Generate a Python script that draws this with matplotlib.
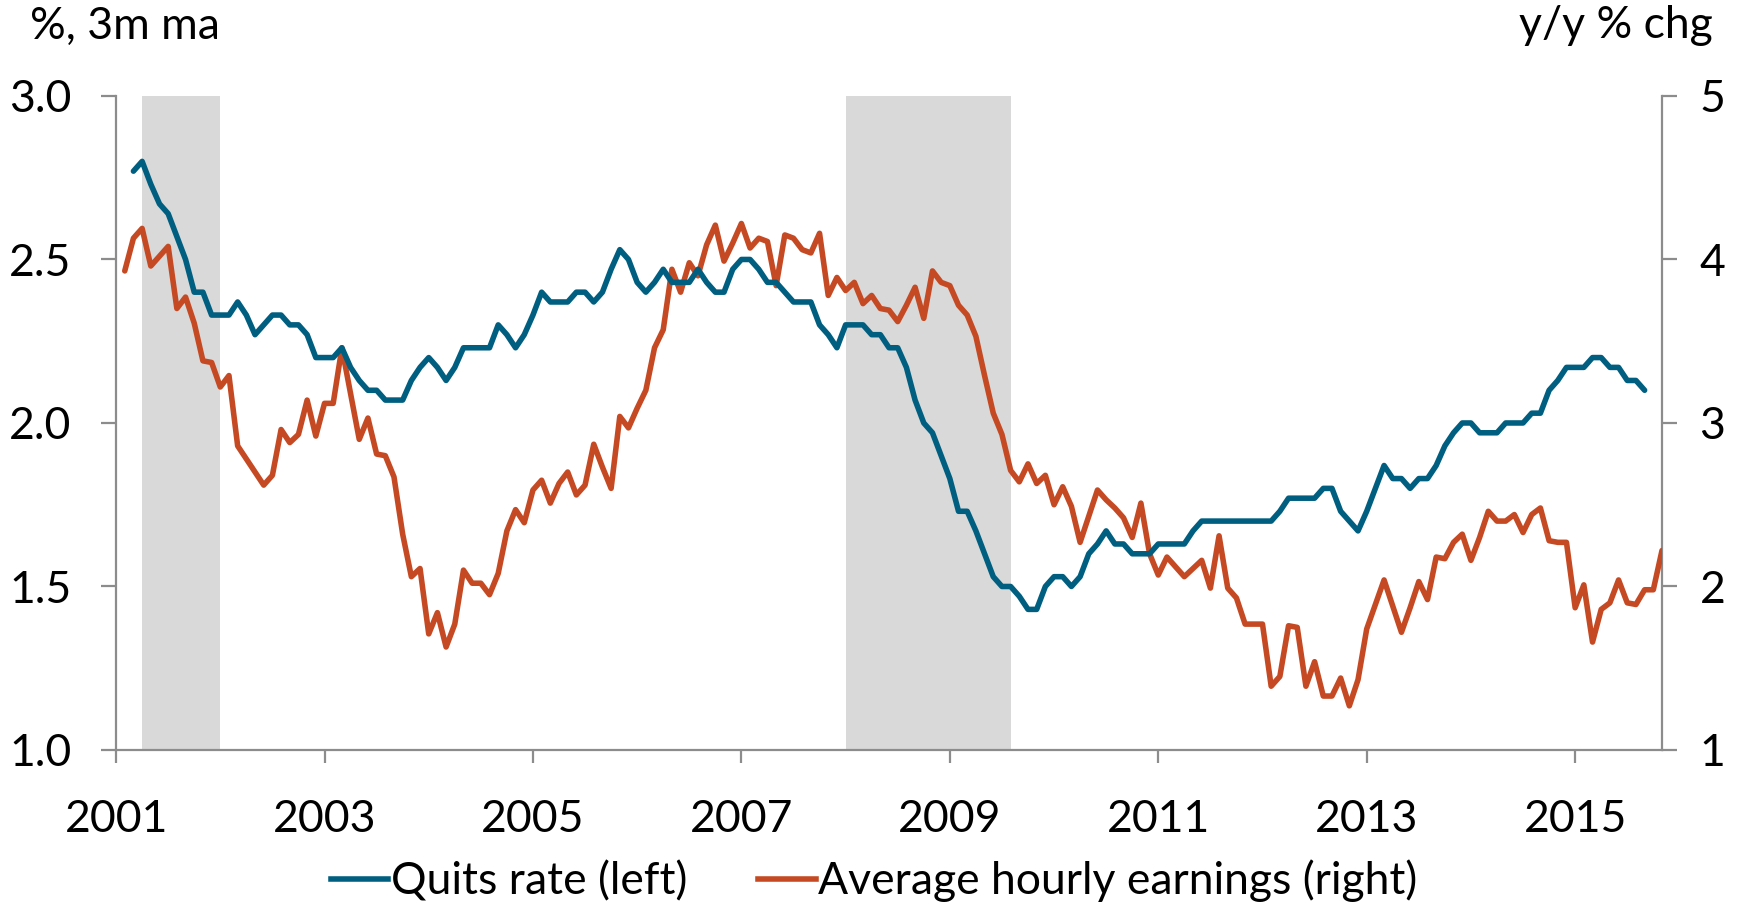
import matplotlib
matplotlib.use("Agg")
import matplotlib.pyplot as plt
import pandas as pd
from matplotlib.lines import Line2D

# ---------------- data ----------------
quits_start = "2001-03"
quits_rate = [
    2.77, 2.80, 2.73, 2.67, 2.64, 2.57, 2.50, 2.40, 2.40, 2.33,
    2.33, 2.33, 2.37, 2.33, 2.27, 2.30, 2.33, 2.33, 2.30, 2.30,
    2.27, 2.20, 2.20, 2.20, 2.23, 2.17, 2.13, 2.10, 2.10, 2.07,
    2.07, 2.07, 2.13, 2.17, 2.20, 2.17, 2.13, 2.17, 2.23, 2.23,
    2.23, 2.23, 2.30, 2.27, 2.23, 2.27, 2.33, 2.40, 2.37, 2.37,
    2.37, 2.40, 2.40, 2.37, 2.40, 2.47, 2.53, 2.50, 2.43, 2.40,
    2.43, 2.47, 2.43, 2.43, 2.43, 2.47, 2.43, 2.40, 2.40, 2.47,
    2.50, 2.50, 2.47, 2.43, 2.43, 2.40, 2.37, 2.37, 2.37, 2.30,
    2.27, 2.23, 2.30, 2.30, 2.30, 2.27, 2.27, 2.23, 2.23, 2.17,
    2.07, 2.00, 1.97, 1.90, 1.83, 1.73, 1.73, 1.67, 1.60, 1.53,
    1.50, 1.50, 1.47, 1.43, 1.43, 1.50, 1.53, 1.53, 1.50, 1.53,
    1.60, 1.63, 1.67, 1.63, 1.63, 1.60, 1.60, 1.60, 1.63, 1.63,
    1.63, 1.63, 1.67, 1.70, 1.70, 1.70, 1.70, 1.70, 1.70, 1.70,
    1.70, 1.70, 1.73, 1.77, 1.77, 1.77, 1.77, 1.80, 1.80, 1.73,
    1.70, 1.67, 1.73, 1.80, 1.87, 1.83, 1.83, 1.80, 1.83, 1.83,
    1.87, 1.93, 1.97, 2.00, 2.00, 1.97, 1.97, 1.97, 2.00, 2.00,
    2.00, 2.03, 2.03, 2.10, 2.13, 2.17, 2.17, 2.17, 2.20, 2.20,
    2.17, 2.17, 2.13, 2.13, 2.10,
]

ahe_start = "2001-02"
ahe_growth = [
    3.93, 4.13, 4.19, 3.96, 4.02, 4.08, 3.70, 3.77, 3.61, 3.38,
    3.37, 3.22, 3.29, 2.86, 2.78, 2.70, 2.62, 2.68, 2.96, 2.88,
    2.93, 3.14, 2.92, 3.12, 3.12, 3.46, 3.18, 2.90, 3.03, 2.81,
    2.80, 2.67, 2.32, 2.06, 2.11, 1.71, 1.84, 1.63, 1.77, 2.10,
    2.02, 2.02, 1.95, 2.08, 2.34, 2.47, 2.39, 2.59, 2.65, 2.51,
    2.63, 2.70, 2.56, 2.62, 2.87, 2.73, 2.60, 3.04, 2.97, 3.09,
    3.20, 3.46, 3.57, 3.94, 3.80, 3.98, 3.90, 4.09, 4.21, 3.99,
    4.10, 4.22, 4.07, 4.13, 4.11, 3.84, 4.15, 4.13, 4.06, 4.04,
    4.16, 3.78, 3.89, 3.81, 3.86, 3.73, 3.78, 3.70, 3.69, 3.62,
    3.72, 3.83, 3.64, 3.93, 3.86, 3.84, 3.72, 3.66, 3.53, 3.29,
    3.06, 2.93, 2.71, 2.64, 2.75, 2.63, 2.68, 2.50, 2.61, 2.49,
    2.27, 2.43, 2.59, 2.53, 2.48, 2.42, 2.30, 2.51, 2.20, 2.07,
    2.18, 2.12, 2.06, 2.11, 2.16, 1.99, 2.31, 1.99, 1.93, 1.77,
    1.77, 1.77, 1.39, 1.45, 1.76, 1.75, 1.39, 1.54, 1.33, 1.33,
    1.44, 1.27, 1.43, 1.74, 1.89, 2.04, 1.88, 1.72, 1.87, 2.03,
    1.92, 2.18, 2.17, 2.27, 2.32, 2.16, 2.30, 2.46, 2.40, 2.40,
    2.44, 2.33, 2.44, 2.48, 2.28, 2.27, 2.27, 1.87, 2.01, 1.66,
    1.86, 1.90, 2.04, 1.90, 1.89, 1.98, 1.98, 2.22,
]

recessions = [("2001-04", "2002-01"), ("2008-01", "2009-08")]
axis_start, axis_end = "2001-01", "2015-11"
year_ticks = [2001, 2003, 2005, 2007, 2009, 2011, 2013, 2015]
left_ticks = [1.0, 1.5, 2.0, 2.5, 3.0]
right_ticks = [1, 2, 3, 4, 5]

series_labels = ["Quits rate (left)", "Average hourly earnings (right)"]
left_unit = "%, 3m ma"
right_unit = "y/y % chg"


def frac_year(p):
    p = pd.Period(p, freq="M")
    return p.year + (p.month - 1) / 12.0


def month_axis(start, n):
    idx = pd.period_range(start=start, periods=n, freq="M")
    return [p.year + (p.month - 1) / 12.0 for p in idx]


# ---------------- style ----------------
BLUE = "#005F80"
ORANGE = "#C54A23"
SHADE = "#D9D9D9"
AXC = "#8C8C8C"
FONT = ["Lato", "DejaVu Sans"]
plt.rcParams["font.family"] = FONT
FS = 32
LW = 4.0

fig = plt.figure(figsize=(17.48, 9.07), dpi=100)
ax = fig.add_axes([0.0664, 0.1731, 0.9508 - 0.0664, 0.8942 - 0.1731])
ax2 = ax.twinx()

# shading sits on the lower (right-axis) layer so both lines draw above it
for a, b in recessions:
    ax2.axvspan(frac_year(a), frac_year(b), color=SHADE, lw=0, zorder=0)

xq = month_axis(quits_start, len(quits_rate))
xa = month_axis(ahe_start, len(ahe_growth))
ax2.plot(xa, ahe_growth, color=ORANGE, lw=LW, solid_joinstyle="round",
         solid_capstyle="round", zorder=3)
ax.plot(xq, quits_rate, color=BLUE, lw=LW, solid_joinstyle="round",
        solid_capstyle="round", zorder=3)
ax.set_zorder(ax2.get_zorder() + 1)
ax.patch.set_visible(False)
ax2.patch.set_visible(True)
ax2.patch.set_facecolor("white")

ax.set_xlim(frac_year(axis_start), frac_year(axis_end))
ax.set_ylim(1.0, 3.0)
ax2.set_ylim(1, 5)
ax.set_xticks(year_ticks)
ax.set_xticklabels([str(y) for y in year_ticks])
ax.set_yticks(left_ticks)
ax.set_yticklabels([f"{v:.1f}" for v in left_ticks])
ax2.set_yticks(right_ticks)
ax2.set_yticklabels([str(v) for v in right_ticks])

for a in (ax, ax2):
    a.spines["top"].set_visible(False)
    for s in ("left", "right", "bottom"):
        a.spines[s].set_color(AXC)
        a.spines[s].set_linewidth(1.6)
ax.spines["right"].set_visible(False)
ax2.spines["left"].set_visible(False)
ax2.spines["bottom"].set_visible(False)

ax.tick_params(axis="y", direction="out", length=11, width=1.6, color=AXC,
               labelsize=FS, pad=21, labelcolor="black")
ax.tick_params(axis="x", direction="out", length=9, width=1.6, color=AXC,
               labelsize=FS, pad=26, labelcolor="black")
ax2.tick_params(axis="y", direction="out", length=11, width=1.6, color=AXC,
                labelsize=FS, pad=16, labelcolor="black")

fig.text(30 / 1748, 1 - 26 / 907, left_unit, fontsize=FS, ha="left",
         va="center")
fig.text(1713 / 1748, 1 - 26 / 907, right_unit, fontsize=FS, ha="right",
         va="center")

handles = [Line2D([], [], color=BLUE, lw=LW),
           Line2D([], [], color=ORANGE, lw=LW)]
fig.legend(handles, series_labels, loc="center", ncol=2,
           bbox_to_anchor=(0.5, 1 - 881 / 907), frameon=False,
           fontsize=FS, handlelength=1.3, handletextpad=0.05,
           columnspacing=1.6)

fig.savefig("out.png", dpi=100)
